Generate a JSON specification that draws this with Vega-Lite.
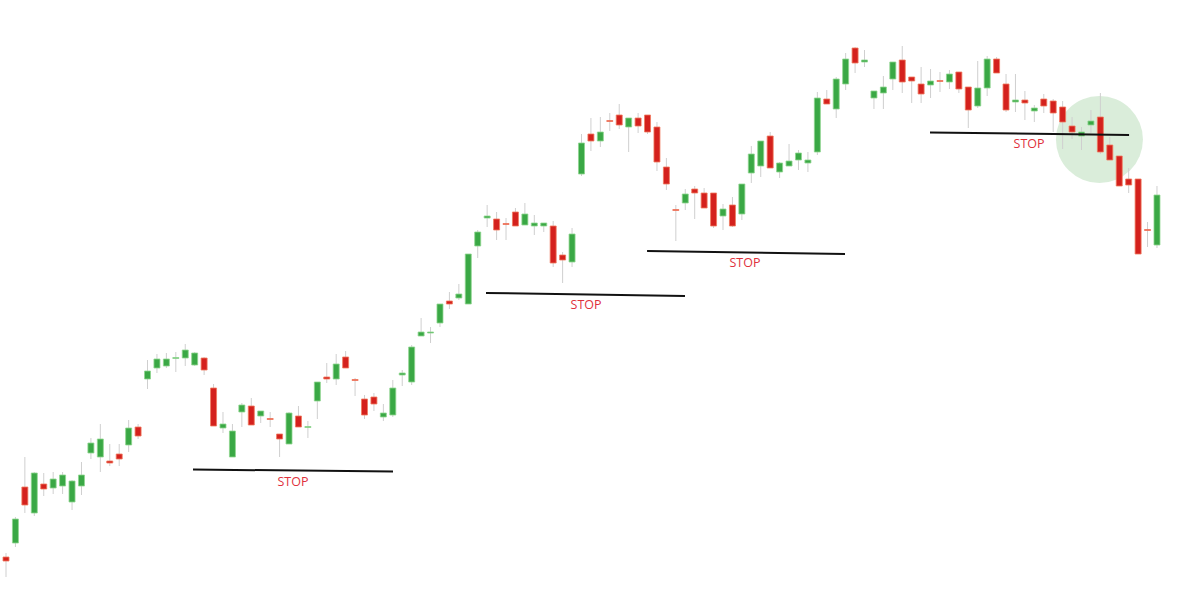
{
  "$schema": "https://vega.github.io/schema/vega-lite/v6.json",
  "width": 1200,
  "height": 611,
  "autosize": {"type": "fit", "contains": "padding"},
  "padding": 0,
  "background": "#ffffff",
  "config": {"view": {"stroke": null}, "scale": {"continuousPadding": 0}},
  "datasets": {
    "candles": [
      {"i":0,"o":557,"c":561,"h":553,"l":577},
      {"i":1,"o":543,"c":519,"h":517,"l":547},
      {"i":2,"o":487,"c":505,"h":457,"l":513},
      {"i":3,"o":513,"c":473,"h":472,"l":516},
      {"i":4,"o":484,"c":489,"h":473,"l":496},
      {"i":5,"o":488,"c":479,"h":472,"l":494},
      {"i":6,"o":486,"c":475,"h":472,"l":494},
      {"i":7,"o":502,"c":481,"h":480,"l":510},
      {"i":8,"o":486,"c":475,"h":462,"l":495},
      {"i":9,"o":453,"c":443,"h":438,"l":459},
      {"i":10,"o":457,"c":439,"h":424,"l":472},
      {"i":11,"o":461,"c":463,"h":444,"l":466},
      {"i":12,"o":454,"c":459,"h":444,"l":466},
      {"i":13,"o":445,"c":428,"h":420,"l":452},
      {"i":14,"o":427,"c":436,"h":424,"l":439},
      {"i":15,"o":379,"c":371,"h":360,"l":389},
      {"i":16,"o":368,"c":359,"h":354,"l":373},
      {"i":17,"o":366,"c":359,"h":353,"l":368},
      {"i":18,"o":358.5,"c":357.5,"h":352,"l":372},
      {"i":19,"o":358,"c":350,"h":344,"l":366},
      {"i":20,"o":365,"c":353,"h":352,"l":366},
      {"i":21,"o":358,"c":370,"h":357,"l":375},
      {"i":22,"o":388,"c":426,"h":384,"l":426},
      {"i":23,"o":428,"c":424,"h":412,"l":433},
      {"i":24,"o":457,"c":431,"h":424,"l":457},
      {"i":25,"o":412,"c":405,"h":403,"l":427},
      {"i":26,"o":406,"c":425,"h":398,"l":425},
      {"i":27,"o":416,"c":411,"h":411,"l":423},
      {"i":28,"o":418.5,"c":419.5,"h":412,"l":427},
      {"i":29,"o":434,"c":439,"h":434,"l":457},
      {"i":30,"o":444,"c":413,"h":412,"l":444},
      {"i":31,"o":416,"c":427,"h":406,"l":427},
      {"i":32,"o":427.5,"c":426.5,"h":421,"l":438},
      {"i":33,"o":401,"c":382,"h":382,"l":419},
      {"i":34,"o":377,"c":379,"h":363,"l":383},
      {"i":35,"o":379,"c":364,"h":354,"l":385},
      {"i":36,"o":357,"c":368,"h":351,"l":368},
      {"i":37,"o":379.5,"c":380.5,"h":378,"l":396},
      {"i":38,"o":399,"c":415,"h":395,"l":419},
      {"i":39,"o":397,"c":404,"h":393,"l":411},
      {"i":40,"o":417,"c":413,"h":404,"l":421},
      {"i":41,"o":415,"c":388,"h":380,"l":417},
      {"i":42,"o":375,"c":373,"h":370,"l":386},
      {"i":43,"o":382,"c":347,"h":345,"l":385},
      {"i":44,"o":336,"c":332,"h":318,"l":336},
      {"i":45,"o":333,"c":332,"h":327,"l":343},
      {"i":46,"o":323,"c":304,"h":304,"l":327},
      {"i":47,"o":301,"c":304,"h":292,"l":309},
      {"i":48,"o":298,"c":294,"h":284,"l":300},
      {"i":49,"o":304,"c":254,"h":254,"l":304},
      {"i":50,"o":246,"c":232,"h":230,"l":258},
      {"i":51,"o":218,"c":216,"h":205,"l":227},
      {"i":52,"o":219,"c":230,"h":212,"l":240},
      {"i":53,"o":223.5,"c":224.5,"h":218,"l":240},
      {"i":54,"o":212,"c":226,"h":208,"l":226},
      {"i":55,"o":225,"c":214,"h":203,"l":225},
      {"i":56,"o":226,"c":223,"h":215,"l":235},
      {"i":57,"o":226,"c":223,"h":223,"l":232},
      {"i":58,"o":226,"c":263,"h":221,"l":267},
      {"i":59,"o":255,"c":260,"h":252,"l":283},
      {"i":60,"o":262,"c":234,"h":228,"l":267},
      {"i":61,"o":174,"c":143,"h":134,"l":176},
      {"i":62,"o":134,"c":141,"h":118,"l":151},
      {"i":63,"o":141,"c":132,"h":117,"l":147},
      {"i":64,"o":120.5,"c":121.5,"h":113,"l":131},
      {"i":65,"o":115,"c":125,"h":104,"l":129},
      {"i":66,"o":127,"c":118,"h":118,"l":152},
      {"i":67,"o":118,"c":126,"h":113,"l":133},
      {"i":68,"o":115,"c":132,"h":115,"l":134},
      {"i":69,"o":127,"c":162,"h":122,"l":171},
      {"i":70,"o":167,"c":184,"h":158,"l":190},
      {"i":71,"o":209.5,"c":210.5,"h":205,"l":241},
      {"i":72,"o":203,"c":194,"h":189,"l":210},
      {"i":73,"o":189,"c":193,"h":186,"l":219},
      {"i":74,"o":193,"c":208,"h":188,"l":208},
      {"i":75,"o":193,"c":226,"h":193,"l":228},
      {"i":76,"o":216,"c":209,"h":204,"l":230},
      {"i":77,"o":205,"c":226,"h":197,"l":227},
      {"i":78,"o":214,"c":184,"h":184,"l":220},
      {"i":79,"o":173,"c":154,"h":146,"l":183},
      {"i":80,"o":166,"c":141,"h":141,"l":177},
      {"i":81,"o":136,"c":168,"h":132,"l":168},
      {"i":82,"o":172,"c":163,"h":162,"l":178},
      {"i":83,"o":166,"c":161,"h":144,"l":166},
      {"i":84,"o":160,"c":153,"h":150,"l":170},
      {"i":85,"o":163,"c":160,"h":152,"l":172},
      {"i":86,"o":152,"c":98,"h":92,"l":155},
      {"i":87,"o":99,"c":104,"h":90,"l":104},
      {"i":88,"o":109,"c":79,"h":77,"l":118},
      {"i":89,"o":84,"c":59,"h":53,"l":90},
      {"i":90,"o":48,"c":63,"h":47,"l":73},
      {"i":91,"o":62,"c":60,"h":50,"l":67},
      {"i":92,"o":98,"c":91,"h":91,"l":109},
      {"i":93,"o":93,"c":87,"h":76,"l":109},
      {"i":94,"o":79,"c":62,"h":62,"l":90},
      {"i":95,"o":60,"c":82,"h":46,"l":93},
      {"i":96,"o":77,"c":81,"h":77,"l":103},
      {"i":97,"o":84,"c":94,"h":67,"l":103},
      {"i":98,"o":85,"c":81,"h":69,"l":98},
      {"i":99,"o":80.5,"c":81.5,"h":72,"l":92},
      {"i":100,"o":82,"c":74,"h":70,"l":89},
      {"i":101,"o":72,"c":89,"h":72,"l":93},
      {"i":102,"o":87,"c":110,"h":87,"l":128},
      {"i":103,"o":106,"c":88,"h":61,"l":108},
      {"i":104,"o":88,"c":59,"h":56,"l":96},
      {"i":105,"o":59,"c":73,"h":57,"l":73},
      {"i":106,"o":84,"c":110,"h":74,"l":112},
      {"i":107,"o":102,"c":100,"h":74,"l":112},
      {"i":108,"o":100,"c":103,"h":91,"l":120},
      {"i":109,"o":111,"c":108,"h":105,"l":122},
      {"i":110,"o":99,"c":106,"h":94,"l":113},
      {"i":111,"o":101,"c":113,"h":99,"l":132},
      {"i":112,"o":107,"c":122,"h":101,"l":149},
      {"i":113,"o":126,"c":132,"h":117,"l":139},
      {"i":114,"o":136,"c":132,"h":127,"l":150},
      {"i":115,"o":125,"c":121,"h":110,"l":133},
      {"i":116,"o":117,"c":152,"h":93,"l":154},
      {"i":117,"o":145,"c":160,"h":137,"l":160},
      {"i":118,"o":156,"c":186,"h":156,"l":186},
      {"i":119,"o":179,"c":185,"h":168,"l":193},
      {"i":120,"o":179,"c":254,"h":179,"l":254},
      {"i":121,"o":229.5,"c":230.5,"h":222,"l":247},
      {"i":122,"o":245,"c":195,"h":186,"l":248}
    ],
    "stops": [
      {"x1":19.82,"x2":41.02,"y1":469.5,"y2":471.5,"lx":30.42,"ly":482,"label":"STOP"},
      {"x1":50.88,"x2":71.97,"y1":293,"y2":296,"lx":61.48,"ly":305,"label":"STOP"},
      {"x1":67.95,"x2":88.93,"y1":251,"y2":254,"lx":78.33,"ly":263,"label":"STOP"},
      {"x1":97.94,"x2":119.04,"y1":132.5,"y2":135,"lx":108.44,"ly":144,"label":"STOP"}
    ],
    "highlight": [
      {"i":115.9,"y":139.5}
    ]
  },
  "layer": [
    {
      "data": {"name": "highlight"},
      "mark": {"type": "circle", "size": 7569, "color": "#c4e2c4", "opacity": 0.62},
      "encoding": {
        "x": {"field": "i", "type": "quantitative", "scale": {"domain": [-0.636, 126.56], "nice": false, "zero": false, "padding": 0}, "axis": null},
        "y": {"field": "y", "type": "quantitative", "scale": {"domain": [0, 611], "reverse": true, "nice": false, "zero": false, "padding": 0}, "axis": null}
      }
    },
    {
      "data": {"name": "candles"},
      "mark": {"type": "rule", "color": "#cfcfcf", "strokeWidth": 1},
      "encoding": {
        "x": {"field": "i", "type": "quantitative", "axis": null},
        "y": {"field": "h", "type": "quantitative", "axis": null},
        "y2": {"field": "l"}
      }
    },
    {
      "data": {"name": "candles"},
      "mark": {"type": "bar", "width": 6, "strokeWidth": 0.8},
      "encoding": {
        "x": {"field": "i", "type": "quantitative", "axis": null},
        "y": {"field": "o", "type": "quantitative", "axis": null},
        "y2": {"field": "c"},
        "fill": {"condition": {"test": "datum.c < datum.o", "value": "#3aa845"}, "value": "#d4211d"},
        "stroke": {"condition": {"test": "datum.c < datum.o", "value": "#8fd68f"}, "value": "#f07a5e"}
      }
    },
    {
      "data": {"name": "stops"},
      "mark": {"type": "rule", "color": "#111111", "strokeWidth": 2},
      "encoding": {
        "x": {"field": "x1", "type": "quantitative", "axis": null},
        "x2": {"field": "x2"},
        "y": {"field": "y1", "type": "quantitative", "axis": null},
        "y2": {"field": "y2"}
      }
    },
    {
      "data": {"name": "stops"},
      "mark": {"type": "text", "color": "#e0313c", "font": "Open Sans", "fontSize": 12.5, "baseline": "middle", "align": "center"},
      "encoding": {
        "x": {"field": "lx", "type": "quantitative", "axis": null},
        "y": {"field": "ly", "type": "quantitative", "axis": null},
        "text": {"field": "label"}
      }
    }
  ],
  "resolve": {"scale": {"x": "shared", "y": "shared"}}
}
